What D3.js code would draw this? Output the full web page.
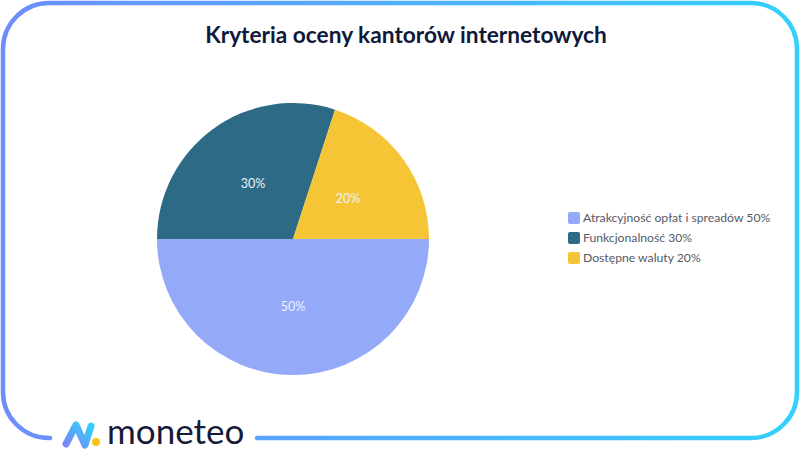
<!DOCTYPE html>
<html><head><meta charset="utf-8">
<script src="https://cdn.jsdelivr.net/npm/d3@7"></script>
<style>body{margin:0;background:#fff}svg{display:block}</style>
</head><body>
<svg id="c" width="800" height="450"></svg>
<script>
const categories = ["Atrakcyjność opłat i spreadów", "Funkcjonalność", "Dostępne waluty"];
const values = [50, 30, 20];
const colors = ["#94a9f8", "#2d6a85", "#f5c536"];
const title = "Kryteria oceny kantorów internetowych";

const svg = d3.select("#c");
const defs = svg.append("defs");
const g1 = defs.append("linearGradient").attr("id","bg").attr("x1","0").attr("x2","1").attr("y1","0").attr("y2","0");
g1.append("stop").attr("offset","0").attr("stop-color","#6e8dfb");
g1.append("stop").attr("offset","1").attr("stop-color","#33d0fd");
const g2 = defs.append("linearGradient").attr("id","ig").attr("x1","0").attr("x2","1").attr("y1","1").attr("y2","0");
g2.append("stop").attr("offset","0").attr("stop-color","#7a86f7");
g2.append("stop").attr("offset","1").attr("stop-color","#2fd2fd");

// Frame (with gap for logo at bottom-left)
const L=3, T=3, R=797, B=438, rad=46;
const p = d3.path();
p.moveTo(50, B);
p.arcTo(L, B, L, B-rad, rad);
p.lineTo(L, T+rad);
p.arcTo(L, T, L+rad, T, rad);
p.lineTo(R-rad, T);
p.arcTo(R, T, R, T+rad, rad);
p.lineTo(R, B-rad);
p.arcTo(R, B, R-rad, B, rad);
p.lineTo(257, B);
svg.append("path").attr("d", p.toString()).attr("fill","none")
  .attr("stroke","url(#bg)").attr("stroke-width",4.5).attr("stroke-linecap","round");

// Title
svg.append("text").attr("x",406).attr("y",43).attr("text-anchor","middle")
  .attr("font-family","Lato").attr("font-weight","bold").attr("font-size",22.7)
  .attr("fill","#0f1a3a").text(title);

// Pie
const cx=293, cy=239, r=136;
const pie = d3.pie().sort(null).startAngle(Math.PI/2).endAngle(Math.PI/2 + 2*Math.PI);
const arc = d3.arc().innerRadius(0).outerRadius(r);
const gp = svg.append("g").attr("transform",`translate(${cx},${cy})`);
const arcs = pie(values);
gp.selectAll("path").data(arcs).join("path").attr("d",arc).attr("fill",(d,i)=>colors[i]);
gp.selectAll("text").data(arcs).join("text")
  .attr("transform",d=>`translate(${arc.centroid(d)})`)
  .attr("text-anchor","middle").attr("dy","0.35em")
  .attr("font-family","Lato").attr("font-size",12.5).attr("fill","#eef2ff")
  .text(d=>d.data+"%");

// Legend
const lg = svg.append("g").attr("transform","translate(568,212)");
const rows = lg.selectAll("g").data(categories).join("g").attr("transform",(d,i)=>`translate(0,${i*20})`);
rows.append("rect").attr("width",12).attr("height",12).attr("rx",2).attr("fill",(d,i)=>colors[i]);
rows.append("text").attr("x",15).attr("y",6).attr("dy","0.36em")
  .attr("font-family","Lato").attr("font-size",12.2).attr("fill","#555a66")
  .text((d,i)=>`${d} ${values[i]}%`);

// Logo
const lgo = svg.append("g");
lgo.append("path").attr("d","M66 444 L76 425 L85 445 L91 426")
  .attr("fill","none").attr("stroke","url(#ig)").attr("stroke-width",7).attr("stroke-linejoin","round").attr("stroke-linecap","round");
lgo.append("circle").attr("cx",96).attr("cy",442).attr("r",4).attr("fill","#f5c518");
lgo.append("text").attr("x",107).attr("y",444).attr("font-family","Lato").attr("font-size",35)
  .attr("fill","#161b3a").text("moneteo");
</script>
</body></html>
